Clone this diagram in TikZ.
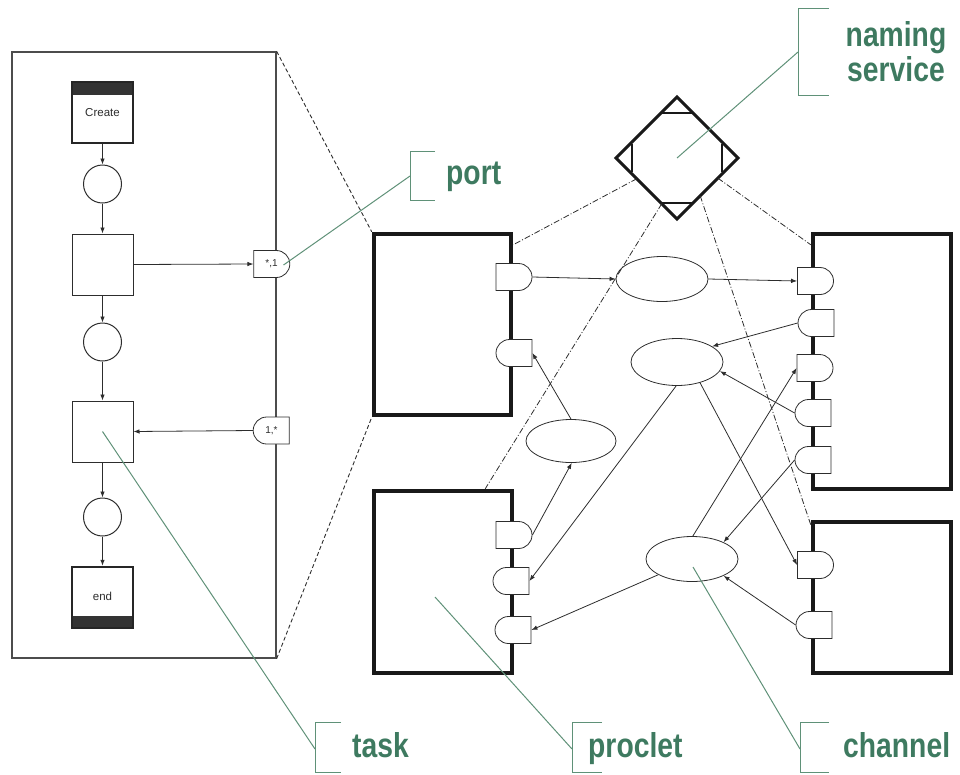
\documentclass[tikz,border=0pt]{standalone}
\usepackage{fontspec}
\setmainfont{Liberation Sans}
\newfontfamily\lblfont[FakeStretch=0.82]{Liberation Sans}
\usetikzlibrary{shapes.geometric,shapes.misc,arrows.meta,calc}
\definecolor{lblgreen}{RGB}{62,122,96}
\definecolor{lnkgreen}{RGB}{95,145,120}
\definecolor{dk}{RGB}{45,45,45}
\begin{document}
\begin{tikzpicture}[x=1pt,y=-1pt,
  arr/.style={draw=dk, line width=0.8pt, -{Latex[length=6pt,width=4.5pt]}},
  place/.style={circle, draw=dk, line width=1pt, minimum size=38pt, inner sep=0pt, fill=white},
  trans/.style={rectangle, draw=dk, line width=1pt, minimum size=61pt, inner sep=0pt, fill=white},
  termbox/.style={rectangle, draw=black!85, line width=2.5pt, minimum size=61pt, inner sep=0pt, fill=white, text=dk, font=\fontsize{11.5}{13}\selectfont},
  proclet/.style={rectangle, draw=black!90, line width=4.5pt, inner sep=0pt},
  outport/.style={rounded rectangle, rounded rectangle left arc=none, draw=dk, line width=0.8pt, fill=white, minimum width=36pt, minimum height=27pt, inner sep=0pt, text=dk, font=\fontsize{10}{12}\selectfont},
  inport/.style={rounded rectangle, rounded rectangle right arc=none, draw=dk, line width=0.8pt, fill=white, minimum width=36pt, minimum height=27pt, inner sep=0pt, text=dk, font=\fontsize{10}{12}\selectfont},
  chan/.style={ellipse, draw=dk, line width=0.8pt, inner sep=0pt},
  nsline/.style={draw=dk, line width=0.8pt, dash pattern=on 6pt off 2pt on 1pt off 2pt},
  zoomline/.style={draw=dk, line width=0.9pt, dash pattern=on 4pt off 2.5pt},
  callout/.style={draw=lnkgreen, line width=1pt},
  lbl/.style={text=lblgreen, font=\lblfont\bfseries\fontsize{34.5}{35}\selectfont, inner sep=0pt}
]
\useasboundingbox (0,0) rectangle (960,774);

% ---------- task (left panel) ----------
\node[rectangle, draw=black!70, line width=1.3pt, minimum width=264pt, minimum height=606pt, inner sep=0pt] (L) at (144,355) {};

\node[termbox, path picture={\fill[black!80] (path picture bounding box.north west) rectangle ([yshift=-13pt]path picture bounding box.north east);}] (create) at (102.5,112.5) {\raisebox{-3pt}{Create}};
\node[place] (p1) at (102.5,184) {};
\node[trans] (sq1) at (102.5,264.5) {};
\node[place] (p2) at (102.5,342) {};
\node[trans] (sq2) at (102.5,431.5) {};
\node[place] (p3) at (102.5,517) {};
\node[termbox, path picture={\fill[black!80] (path picture bounding box.south west) rectangle ([yshift=12pt]path picture bounding box.south east);}] (endb) at (102.5,597.5) {\raisebox{2pt}{end}};

\node[outport] (pout) at (271.5,264) {*,1};
\node[inport] (pin) at (271.5,430.5) {1,*};

\draw[arr] (create) -- (p1);
\draw[arr] (p1) -- (sq1);
\draw[arr] (sq1) -- (p2);
\draw[arr] (p2) -- (sq2);
\draw[arr] (sq2) -- (p3);
\draw[arr] (p3) -- (endb);
\draw[arr] (sq1.east) -- (pout.west);
\draw[arr] (pin.west) -- (sq2.east);

% ---------- proclets ----------
\node[proclet, minimum width=137pt, minimum height=181pt] (A) at (442.5,324.5) {};
\node[proclet, minimum width=138pt, minimum height=255pt] (B) at (882,361.5) {};
\node[proclet, minimum width=138pt, minimum height=182pt] (C) at (443,582) {};
\node[proclet, minimum width=138pt, minimum height=151pt] (D) at (882,597.5) {};

% zoom lines
\draw[zoomline] (L.north east) -- (A.north west);
\draw[zoomline] (L.south east) -- (A.south west);

% ---------- naming service ----------
\node[diamond, aspect=1, draw=black!90, line width=3pt, minimum width=122pt, minimum height=122pt, inner sep=0pt, outer sep=0pt] (ns) at (677,158) {};
\draw[black!90, line width=2.5pt] ($(ns.north)+(-16,16)$) -- ($(ns.north)+(16,16)$);
\draw[black!90, line width=2.5pt] ($(ns.south)+(-16,-16)$) -- ($(ns.south)+(16,-16)$);
\draw[black!90, line width=2.5pt] ($(ns.west)+(16,-14)$) -- ($(ns.west)+(16,14)$);
\draw[black!90, line width=2.5pt] ($(ns.east)+(-16,-14)$) -- ($(ns.east)+(-16,14)$);

\draw[nsline] ($(ns.west)!0.34!(ns.south)$) -- ($(A.north east)+(0,13)$);
\draw[nsline] ($(ns.west)!0.75!(ns.south)$) -- ($(C.north east)+(-29,0)$);
\draw[nsline] ($(ns.south)!0.38!(ns.east)$) -- ($(D.north west)+(0,5)$);
\draw[nsline] ($(ns.south)!0.67!(ns.east)$) -- ($(B.north west)+(0,13)$);

% ---------- channels ----------
\node[chan, minimum width=92pt, minimum height=45pt] (E1) at (662,279) {};
\node[chan, minimum width=92pt, minimum height=47pt] (E2) at (677,362) {};
\node[chan, minimum width=90pt, minimum height=43pt] (E3) at (571,441) {};
\node[chan, minimum width=92pt, minimum height=45pt] (E4) at (692,559) {};

% ---------- ports ----------
\node[outport] (A1) at (514,277) {};
\node[inport]  (A2) at (514,353) {};
\node[outport] (B1) at (815.5,281) {};
\node[inport]  (B2) at (816,323) {};
\node[outport] (B3) at (815,368) {};
\node[inport]  (B4) at (813,413) {};
\node[inport]  (B5) at (813,460) {};
\node[outport] (C1) at (514,535) {};
\node[inport]  (C2) at (511,581) {};
\node[inport]  (C3) at (513,630) {};
\node[outport] (D1) at (815.5,565) {};
\node[inport]  (D2) at (814,625) {};

% ---------- connectors ----------
\draw[arr] (A1.east) -- (E1.west);
\draw[arr] (E1.east) -- (B1.west);
\draw[arr] (B2.west) -- (E2.24);
\draw[arr] (B4.west) -- (E2.-12);
\draw[arr] (E2.-92) -- (C2.east);
\draw[arr] (E2.-42) -- (D1.west);
\draw[arr] (E4.88) -- (B3.west);
\draw[arr] (B5.west) -- (E4.28);
\draw[arr] (D2.west) -- (E4.-28);
\draw[arr] (E4.205) -- (C3.east);
\draw[arr] (E3.north) -- (A2.east);
\draw[arr] (C1.east) -- (E3.-88);

% ---------- labels ----------
\node[lbl, align=center] (tNS) at (896,52) {naming\\service};
\node[lbl, anchor=base west] (tport) at (446,184) {port};
\node[lbl, anchor=base west] (ttask) at (352,757) {task};
\node[lbl, anchor=base west] (tproc) at (588,757) {proclet};
\node[lbl, anchor=base west] (tchan) at (843,757) {channel};

% brackets
\draw[callout] (829,8) -- (798,8) -- (798,95) -- (829,95);
\draw[callout] (435,151) -- (410,151) -- (410,200) -- (435,200);
\draw[callout] (341,722) -- (315,722) -- (315,772) -- (341,772);
\draw[callout] (602,722) -- (572,722) -- (572,772) -- (602,772);
\draw[callout] (829,722) -- (800,722) -- (800,772) -- (829,772);

\coordinate (bNS) at (798,52);
\coordinate (bport) at (410,176);
\coordinate (btask) at (315,749);
\coordinate (bproc) at (572,749);
\coordinate (bchan) at (800,749);

\draw[callout] (bNS) -- (ns.center);
\draw[callout] (bport) -- ($(pout.center)+(12,1)$);
\draw[callout] (sq2.center) -- (btask);
\draw[callout] ($(C.center)+(-8,15)$) -- (bproc);
\draw[callout] ($(E4.center)+(1,8)$) -- (bchan);
\end{tikzpicture}
\end{document}
